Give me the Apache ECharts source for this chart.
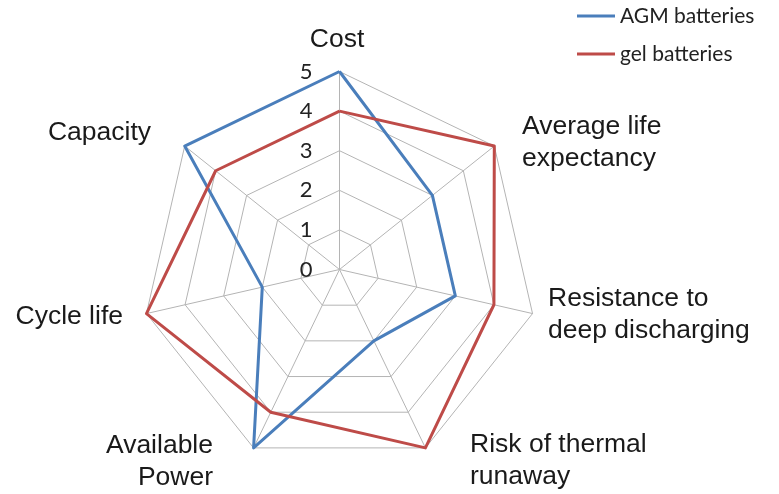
<!DOCTYPE html>
<html><head><meta charset="utf-8">
<script src="https://cdn.jsdelivr.net/npm/echarts@6/dist/echarts.min.js"></script>
<style>html,body{margin:0;padding:0;background:#fff}#c{width:779px;height:494px}</style>
</head><body><div id="c"></div>
<script>
const categories = ['Cost', 'Average life\nexpectancy', 'Resistance to\ndeep discharging', 'Risk of thermal\nrunaway', 'Available\nPower', 'Cycle life', 'Capacity'];
const agm = [5, 3, 3, 2, 5, 2, 5];
const gel = [4, 5, 4, 5, 4, 5, 4];
const seriesNames = ['AGM batteries', 'gel batteries'];
const tickMax = 5;

// ECharts radar runs counter-clockwise; reorder so the categories read clockwise
const order = [0, 6, 5, 4, 3, 2, 1];

const namePos = [
  {x: 337, y: 40, align: 'center'},
  {x: 522, y: 143, align: 'left'},
  {x: 548, y: 315, align: 'left'},
  {x: 470, y: 461, align: 'left'},
  {x: 213, y: 462, align: 'right'},
  {x: 123, y: 317, align: 'right'},
  {x: 151, y: 133, align: 'right'}
];

const chart = echarts.init(document.getElementById('c'));
chart.setOption({
  animation: false,
  legend: {
    orient: 'vertical', left: 572, top: 0,
    icon: 'rect', itemWidth: 38, itemHeight: 3, itemGap: 16,
    textStyle: {fontFamily: 'Lato', fontSize: 21, color: '#222', lineHeight: 22},
    data: seriesNames
  },
  radar: {
    center: [339.5, 269.5], radius: 198, startAngle: 90,
    shape: 'polygon', splitNumber: 5,
    indicator: order.map((k, i) => ({
      name: categories[k], min: 0, max: tickMax,
      axisLabel: {show: i === 0}
    })),
    axisName: {show: false},
    axisLine: {lineStyle: {color: '#b4b4b4', width: 1}},
    splitLine: {lineStyle: {color: '#b4b4b4', width: 1}},
    splitArea: {show: false},
    axisTick: {show: false},
    axisLabel: {show: true, fontFamily: 'Lato', fontSize: 22, color: '#222', margin: 27, showMinLabel: true, showMaxLabel: true}
  },
  graphic: categories.map((c, i) => ({
    type: 'text',
    x: namePos[i].x, y: namePos[i].y,
    style: {text: c, font: '26.5px "Liberation Sans", Arial, sans-serif', lineHeight: 32,
      fill: '#1a1a1a', align: namePos[i].align, verticalAlign: 'middle'}
  })),
  series: [{
    type: 'radar', symbol: 'none',
    data: [
      {name: seriesNames[0], value: order.map(k => agm[k]), lineStyle: {color: '#4a7ebb', width: 3}, itemStyle: {color: '#4a7ebb'}},
      {name: seriesNames[1], value: order.map(k => gel[k]), lineStyle: {color: '#be4b48', width: 3}, itemStyle: {color: '#be4b48'}}
    ]
  }]
});
</script></body></html>
